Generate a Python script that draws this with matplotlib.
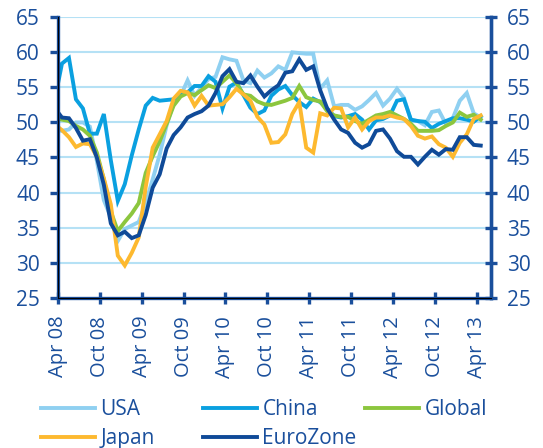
import numpy as np
import matplotlib
matplotlib.use("Agg")
import matplotlib.pyplot as plt

# PMI readings, one per month (first value sits just left of the axis)
usa = [49.0, 48.8, 49.0, 50.0, 50.0, 49.4, 44.5, 38.9, 36.5, 33.1, 34.8, 35.3, 35.8, 38.5, 41.9, 45.4,
       49.6, 52.8, 53.8, 56.0, 53.8, 55.0, 56.2, 56.5, 59.3, 59.0, 58.8, 56.0, 55.6, 57.4, 56.4, 57.0,
       58.0, 57.5, 60.0, 59.9, 59.8, 59.8, 54.8, 56.0, 52.3, 52.5, 52.5, 51.8, 52.3, 53.2, 54.2, 52.4,
       53.4, 54.8, 53.5, 50.3, 50.2, 49.6, 51.5, 51.7, 49.8, 50.6, 53.1, 54.2, 51.3, 50.7]
china = [53.4, 58.4, 59.2, 53.3, 52.0, 48.4, 48.4, 51.2, 44.6, 38.8, 41.2, 45.3, 49.0, 52.4, 53.5, 53.1,
         53.2, 53.3, 54.0, 54.3, 55.2, 55.2, 56.6, 55.8, 52.0, 55.1, 55.7, 53.9, 52.1, 51.2, 51.7, 53.8,
         54.7, 55.2, 53.9, 52.9, 52.2, 53.4, 52.9, 52.0, 50.9, 50.7, 50.9, 51.2, 50.4, 49.0, 50.3, 50.5,
         51.0, 53.1, 53.3, 50.4, 50.2, 50.1, 49.2, 49.8, 50.2, 50.6, 50.6, 50.4, 50.1, 50.9]
glob = [50.6, 50.4, 50.2, 49.5, 49.0, 48.1, 45.7, 41.9, 37.3, 34.5, 35.8, 37.0, 38.5, 42.8, 45.2, 47.3,
        49.8, 52.4, 53.7, 54.2, 53.9, 54.6, 55.3, 54.9, 55.8, 56.7, 55.6, 54.0, 53.8, 53.0, 52.6, 52.5,
        52.8, 53.1, 53.5, 55.2, 53.6, 53.2, 53.0, 51.6, 51.0, 50.8, 50.8, 50.2, 49.8, 50.4, 51.0, 51.2,
        51.5, 51.0, 50.5, 49.8, 48.8, 48.8, 48.8, 48.9, 49.5, 50.0, 51.4, 50.8, 51.1, 50.4]
japan = [49.7, 48.9, 47.9, 46.5, 47.0, 46.9, 45.1, 42.0, 38.3, 31.0, 29.6, 31.4, 33.6, 40.8, 46.4, 48.3,
         50.2, 53.4, 54.5, 54.3, 52.4, 53.8, 52.4, 52.5, 52.6, 53.6, 54.8, 54.0, 53.1, 50.8, 49.7, 47.1,
         47.2, 48.3, 51.2, 52.9, 46.4, 45.7, 51.3, 51.0, 52.1, 52.0, 49.3, 50.7, 49.0, 50.2, 50.7, 50.7,
         51.0, 50.7, 50.5, 49.5, 48.1, 47.7, 48.0, 46.9, 46.4, 45.1, 47.1, 48.3, 50.5, 51.0]
euro = [52.0, 50.7, 50.6, 49.2, 47.4, 47.6, 45.0, 41.1, 35.6, 33.9, 34.4, 33.5, 33.9, 36.8, 40.7, 42.6,
        46.3, 48.2, 49.3, 50.7, 51.2, 51.6, 52.4, 54.2, 56.6, 57.6, 55.8, 55.6, 56.7, 55.1, 53.7, 54.6,
        55.3, 57.1, 57.3, 59.0, 57.5, 58.0, 54.6, 52.0, 50.4, 49.0, 48.5, 47.1, 46.4, 46.9, 48.8, 49.0,
        47.7, 45.9, 45.1, 45.1, 44.0, 45.1, 46.1, 45.4, 46.2, 46.1, 47.9, 47.9, 46.8, 46.7]

tick_labels = ["Apr 08", "Oct 08", "Apr 09", "Oct 09", "Apr 10", "Oct 10",
               "Apr 11", "Oct 11", "Apr 12", "Oct 12", "Apr 13"]

navy = "#1a4f9c"
plt.rcParams["font.family"] = ["Open Sans", "DejaVu Sans"]

# months counted from the "Apr 08" tick, points sit a bit after each tick
x = np.arange(len(usa)) - 1 + 0.57

fig = plt.figure(figsize=(5.43, 4.48), dpi=100)
ax = fig.add_axes([0.1068, 0.3355, 0.7969, 0.6259])

for y in range(30, 70, 5):
    ax.axhline(y, color="#b5e1f5", lw=1.5, zorder=0)

lines = {}
for name, vals, col in [("USA", usa, "#8fd0f1"), ("China", china, "#0aa0e0"),
                        ("Global", glob, "#8cc63e"), ("Japan", japan, "#fdb92f"),
                        ("EuroZone", euro, "#0f4a98")]:
    lines[name], = ax.plot(x, vals, color=col, lw=2.8, label=name, solid_joinstyle="miter")

ax.set_xlim(0, 62)
ax.set_ylim(25, 65)
ax.set_xticks(np.arange(0, 61, 6))
ax.set_xticklabels(tick_labels, rotation=90)
ax.set_yticks(range(25, 70, 5))

ax.spines["top"].set_visible(False)
for s in ["left", "right", "bottom"]:
    ax.spines[s].set_color(navy)
    ax.spines[s].set_linewidth(2.4)

ax.tick_params(axis="y", direction="out", length=6, width=2.4, color=navy,
               labelcolor=navy, labelsize=15, pad=7)
ax.tick_params(axis="x", direction="inout", length=8, width=2.4, color=navy,
               labelcolor=navy, labelsize=14.5, pad=9)

ax2 = ax.twinx()
ax2.set_ylim(25, 65)
ax2.set_yticks(range(25, 70, 5))
ax2.spines["top"].set_visible(False)
ax2.spines["right"].set_color(navy)
ax2.spines["right"].set_linewidth(2.4)
ax2.tick_params(axis="y", direction="inout", length=9, width=2.4, color=navy,
                labelcolor=navy, labelsize=15, pad=7)

# legend laid out as three equal columns, like the original
cols = [["USA", "Japan"], ["China", "EuroZone"], ["Global"]]
xs = [41, 203, 365]
for names, lx in zip(cols, xs):
    fig.legend(handles=[lines[n] for n in names], loc="upper left",
               bbox_to_anchor=(lx / 543, 1 - 399 / 448), frameon=False,
               fontsize=15, labelcolor=navy, handlelength=2.6, handletextpad=0.25,
               borderpad=0, borderaxespad=0, labelspacing=0.4)

fig.savefig("out.png", dpi=100)
